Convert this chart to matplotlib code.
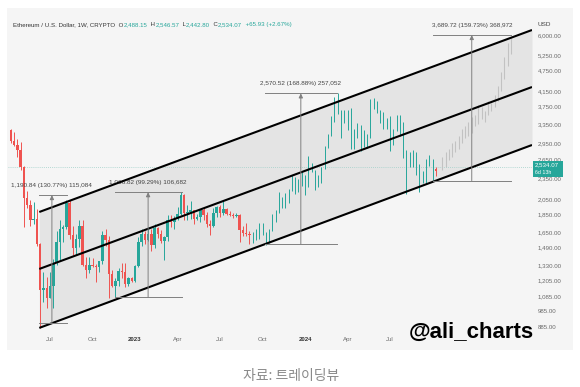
import matplotlib
matplotlib.use("Agg")
import matplotlib.pyplot as plt
import matplotlib.dates as mdates
from matplotlib.patches import Rectangle
import pandas as pd

plt.rcParams['font.family'] = ['Liberation Sans', 'DejaVu Sans']

W, H = 580, 387

# weekly ETH/USD candles, first week starting 2022-04-11
first_week = "2022-04-11"
opens = [3210, 2990, 2920, 2830, 2520, 2060, 1970, 1790, 1800, 1530, 1130, 1140, 1070, 1160, 1350, 1550,
         1680, 1700, 1990, 1620, 1490, 1580, 1720, 1330, 1290, 1330, 1320, 1310, 1360, 1620, 1570, 1250,
         1160, 1200, 1280, 1270, 1170, 1220,
         1200, 1320, 1550, 1630, 1570, 1630, 1520, 1690, 1630, 1560, 1600, 1790, 1760, 1800, 1860, 2100,
         1870, 1880, 1900, 1800, 1820, 1910, 1840, 1740, 1720, 1870, 1940, 1870, 1920, 1860, 1850, 1830,
         1850, 1670, 1640, 1630, 1630, 1590, 1730, 1640, 1550, 1670, 1780, 1890, 2050, 2010, 2060, 2170,
         2350, 2200, 2270,
         2290, 2220, 2480, 2460, 2270, 2290, 2500, 2880, 3110, 3420, 3880, 3630, 3450, 3650, 3450, 3150,
         3200, 3260, 3140, 2930, 3070, 3830, 3810, 3660, 3560, 3420, 3440, 2930, 3240, 3440, 3270, 2690,
         2560, 2610, 2760, 2430, 2300, 2320, 2580, 2650, 2440, 2488.15]
highs = [3230, 3180, 3030, 2970, 2540, 2160, 2040, 2010, 1920, 1540, 1270, 1230, 1270, 1380, 1660, 1790,
         1730, 2030, 2030, 1720, 1630, 1790, 1790, 1400, 1400, 1390, 1340, 1340, 1660, 1680, 1610, 1290,
         1220, 1300, 1350, 1350, 1230, 1230,
         1330, 1600, 1680, 1660, 1710, 1680, 1740, 1710, 1670, 1610, 1840, 1850, 1830, 1940, 2140, 2120,
         1970, 2020, 1910, 1860, 1920, 1930, 1880, 1780, 1930, 1950, 1970, 2030, 1930, 1890, 1870, 1870,
         1860, 1720, 1750, 1660, 1650, 1680, 1750, 1750, 1650, 1680, 1860, 1910, 2140, 2070, 2130, 2190,
         2400, 2360, 2340,
         2450, 2390, 2720, 2600, 2470, 2390, 2530, 2900, 3130, 3520, 3990, 4090, 3660, 3680, 3670, 3730,
         3240, 3360, 3330, 3220, 3130, 3950, 3980, 3890, 3680, 3630, 3490, 3520, 3250, 3560, 3560, 3400,
         2830, 2790, 2820, 2790, 2570, 2460, 2670, 2730, 2670, 2520, 2546.57]
lows = [2950, 2890, 2700, 2480, 1700, 1930, 1720, 1740, 1510, 880, 1040, 1000, 1070, 1000, 1330, 1360,
        1550, 1680, 1580, 1420, 1420, 1500, 1320, 1220, 1260, 1310, 1190, 1270, 1340, 1510, 1070, 1150,
        1080, 1160, 1220, 1150, 1160, 1190,
        1190, 1310, 1510, 1530, 1560, 1460, 1490, 1590, 1540, 1370, 1560, 1710, 1680, 1780, 1850, 1790,
        1790, 1800, 1740, 1780, 1760, 1780, 1710, 1620, 1710, 1820, 1820, 1850, 1850, 1830, 1810, 1820,
        1550, 1610, 1610, 1530, 1540, 1570, 1580, 1620, 1520, 1540, 1660, 1760, 1870, 1930, 1930, 2000,
        2160, 2120, 2150,
        2230, 2100, 2210, 2440, 2170, 2210, 2280, 2490, 2870, 3100, 3400, 3570, 3060, 3360, 3210, 2850,
        2850, 3060, 2810, 2880, 2860, 3060, 3700, 3600, 3360, 3240, 3240, 2810, 2910, 3200, 3090, 2680,
        2110, 2520, 2530, 2400, 2150, 2270, 2260, 2540, 2320, 2380, 2442.80]
closes = [2990, 2920, 2830, 2520, 2060, 1970, 1790, 1800, 1530, 1130, 1140, 1070, 1160, 1350, 1550, 1680,
          1700, 1990, 1620, 1490, 1580, 1720, 1330, 1290, 1330, 1320, 1310, 1360, 1620, 1570, 1250, 1160,
          1200, 1280, 1270, 1170, 1220, 1200,
          1320, 1550, 1630, 1570, 1630, 1520, 1690, 1630, 1560, 1600, 1790, 1760, 1800, 1860, 2100, 1870,
          1880, 1900, 1800, 1820, 1910, 1840, 1740, 1720, 1870, 1940, 1870, 1920, 1860, 1850, 1830, 1850,
          1670, 1640, 1630, 1620, 1630, 1590, 1730, 1640, 1550, 1670, 1780, 1890, 2050, 2010, 2060, 2170,
          2350, 2200, 2270, 2290,
          2220, 2480, 2460, 2270, 2290, 2500, 2880, 3110, 3420, 3880, 3630, 3450, 3650, 3450, 3150, 3200,
          3260, 3140, 2930, 3070, 3830, 3810, 3660, 3560, 3420, 3440, 2930, 3240, 3440, 3270, 2690, 2560,
          2610, 2760, 2430, 2300, 2320, 2580, 2650, 2440, 2468.14, 2534.07]

# projected (ghost) bars after the last candle
proj_first_week = "2024-10-21"
proj_lows = [2480, 2520, 2650, 2700, 2780, 2850, 2950, 3050, 3100, 3150, 3300,
             3350, 3450, 3400, 3550, 3650, 3750, 3900, 4150, 4500, 4900, 5300]
proj_highs = [2700, 2780, 2850, 2950, 3000, 3100, 3250, 3300, 3400, 3500, 3550,
              3800, 3750, 3650, 3900, 3850, 4050, 4300, 4700, 5200, 5700, 5950]

# parallel channel (start/end dates, prices of lower, middle, upper lines)
channel_dates = ["2022-06-11", "2025-05-01"]
channel_lower = [880, 2918]
channel_middle = [1295, 4267]
channel_upper = [1881, 6200]

# price range measurements
meas_start = ["2022-06-11", "2022-11-20", "2023-10-07", "2024-10-01"]
meas_end = ["2022-08-09", "2023-04-13", "2024-03-09", "2025-03-18"]
meas_mid = ["2022-07-08", "2023-01-30", "2023-12-23", "2024-12-23"]
meas_change = [1190.84, 1066.82, 2570.52, 3689.72]
meas_pct = [130.77, 99.29, 168.88, 159.73]
meas_ticks = ["115,084", "106,682", "257,052", "368,972"]

yticks = [6000, 5250, 4750, 4150, 3750, 3350, 2950, 2650, 2350, 2050, 1850, 1650, 1490, 1330,
          1205, 1085, 985, 885]
xtick_dates = ["2022-07-04", "2022-10-03", "2023-01-02", "2023-04-03", "2023-07-03", "2023-10-02",
               "2024-01-01", "2024-04-01", "2024-07-01"]
xtick_labels = ["Jul", "Oct", "2023", "Apr", "Jul", "Oct", "2024", "Apr", "Jul"]

last_price = 2534.07
UP, DOWN = '#26a69a', '#ef5350'


def fx(px):
    return px / W


def fy(py):
    return 1 - py / H


fig = plt.figure(figsize=(W / 100, H / 100), dpi=100)
fig.patch.set_facecolor('white')
fig.patches.append(Rectangle((fx(7), fy(350)), fx(573) - fx(7), fy(8) - fy(350),
                             transform=fig.transFigure, facecolor='#f5f5f5', edgecolor='none', zorder=-5))

ax = fig.add_axes([fx(8), fy(330), fx(532) - fx(8), fy(18) - fy(330)])
ax.set_facecolor('none')
ax.set_yscale('log')
ax.set_xlim(mdates.datestr2num("2022-04-05"), mdates.datestr2num("2025-05-01"))
ax.set_ylim(868, 6707)

# channel
cd = mdates.datestr2num(channel_dates)
ax.fill_between(cd, channel_lower, channel_upper, color='#e4e4e4', lw=0, zorder=1)
for line in (channel_lower, channel_middle, channel_upper):
    ax.plot(cd, line, color='black', lw=1.5, zorder=4, solid_capstyle='butt')

# current price line
ax.axhline(last_price, color='#9fcfc8', lw=0.6, ls=(0, (1, 1.5)), zorder=2)

# candles
dates = mdates.date2num(pd.date_range(first_week, periods=len(opens), freq='7D'))
for d, o, h, l, c in zip(dates, opens, highs, lows, closes):
    col = UP if c >= o else DOWN
    ax.vlines(d, l, h, color=col, lw=0.7, zorder=3)
    ax.bar(d, abs(c - o), bottom=min(o, c), width=5.4, color=col, lw=0, zorder=3)

# ghost projection
pdates = mdates.date2num(pd.date_range(proj_first_week, periods=len(proj_lows), freq='7D'))
ax.vlines(pdates, proj_lows, proj_highs, color='#c2c2c2', lw=0.8, zorder=2)

# measurements
for s, e, m, ch, pc, tk in zip(meas_start, meas_end, meas_mid, meas_change, meas_pct, meas_ticks):
    base = ch / (pc / 100)
    top = base + ch
    s, e, m = mdates.datestr2num([s, e, m])
    ax.plot([s, e], [top, top], color='#808080', lw=0.7, zorder=5)
    ax.plot([s, e], [base, base], color='#808080', lw=0.7, zorder=5)
    ax.annotate('', xy=(m, top), xytext=(m, base),
                arrowprops=dict(arrowstyle='-|>,head_length=0.25,head_width=0.12',
                                color='#808080', lw=0.7, shrinkA=0, shrinkB=0), zorder=5)
    ax.annotate(f'{ch:,.2f} ({pc:.2f}%) {tk}', xy=(m, top), xytext=(0, 7), textcoords='offset points',
                ha='center', va='center', fontsize=4.6, color='#444444', annotation_clip=False)

# axes styling
for sp in ax.spines.values():
    sp.set_visible(False)
ax.yaxis.tick_right()
ax.yaxis.set_minor_locator(matplotlib.ticker.NullLocator())
ax.set_yticks(yticks)
ax.set_yticklabels([f'{v:,.2f}' for v in yticks])
ax.tick_params(axis='y', length=0, pad=4, labelsize=4.4, labelcolor='#6a6a6a')
ax.set_xticks(mdates.datestr2num(xtick_dates))
ax.set_xticklabels(xtick_labels)
ax.tick_params(axis='x', length=0, pad=5, labelsize=4.4, labelcolor='#6a6a6a')
for lab in ax.get_xticklabels():
    if lab.get_text().isdigit():
        lab.set_fontweight('bold')
        lab.set_color('#333333')

# header line
segs = [("Ethereum / U.S. Dollar, 1W, CRYPTO  O", '#333333'), ("2,488.15", UP), ("  H", '#333333'),
        ("2,546.57", UP), ("  L", '#333333'), ("2,442.80", UP), ("  C", '#333333'),
        ("2,534.07", UP), ("  +65.93 (+2.67%)", UP)]
t = fig.text(fx(13), fy(27), segs[0][0], color=segs[0][1], fontsize=4.4, va='bottom')
for txt, col in segs[1:]:
    t = ax.annotate(txt, xy=(1, 0), xycoords=t, va='bottom', color=col, fontsize=4.4,
                    annotation_clip=False)

fig.text(fx(537), fy(25), 'USD', fontsize=4.6, color='#444444', va='center')

# price tag
fig.patches.append(Rectangle((fx(533), fy(177)), fx(563) - fx(533), fy(161) - fy(177),
                             transform=fig.transFigure, facecolor=UP, edgecolor='none', zorder=5))
fig.text(fx(535), fy(165), f'{last_price:,.2f}', fontsize=4.4, color='white', va='center', zorder=6)
fig.text(fx(535), fy(172.5), '6d 13h', fontsize=3.8, color='white', va='center', zorder=6)

fig.text(fx(471), fy(332), '@ali_charts', fontsize=16, fontweight='bold', color='black',
         ha='center', va='center', zorder=6)

fig.text(fx(291), fy(376), '자료: 트레이딩뷰', fontsize=10, color='#8a8a8a', ha='center', va='center',
         family=['Noto Sans CJK KR', 'DejaVu Sans'])

fig.savefig('out.png', dpi=100)
